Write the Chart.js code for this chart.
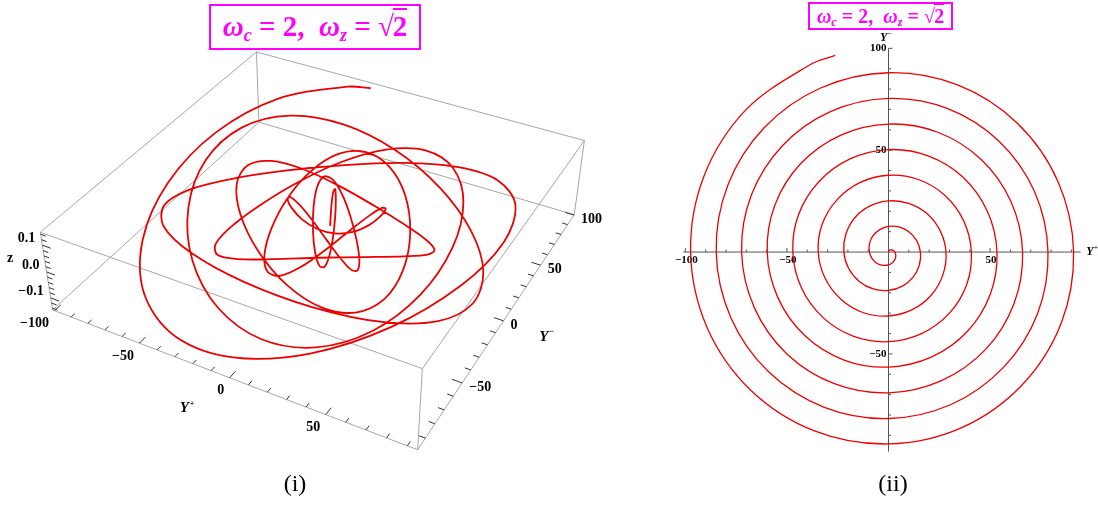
<!DOCTYPE html>
<html><head><meta charset="utf-8">
<script src="https://cdn.jsdelivr.net/npm/chart.js@4.4.1/dist/chart.umd.min.js"></script>
<style>
html,body{margin:0;padding:0;background:#fff;}
#wrap{position:relative;width:1098px;height:506px;overflow:hidden;background:#fff;}
canvas{position:absolute;top:0;}
.title{position:absolute;border:2px solid #ff00ff;color:#ff00ff;font-family:"Liberation Serif","Times New Roman",serif;font-weight:bold;white-space:nowrap;box-sizing:border-box;text-align:center;}
.title sub{font-size:0.62em;vertical-align:-0.28em;line-height:0;}
.ov{border-top:0.08em solid #ff00ff;padding-top:0;margin-left:-0.04em;}
.cap{position:absolute;font-family:"Liberation Serif","Times New Roman",serif;font-size:24px;text-align:center;width:80px;}
</style></head>
<body><div id="wrap">
<canvas id="c1" width="640" height="506" style="left:0"></canvas>
<canvas id="c2" width="458" height="506" style="left:640px"></canvas>
<div class="title" style="left:209px;top:4px;width:212px;height:46px;font-size:29px;line-height:40px;"><i>ω</i><sub><i>c</i></sub> = 2,&nbsp; <i>ω</i><sub><i>z</i></sub> = √<span class="ov">2</span></div>
<div class="title" style="left:808px;top:2px;width:145px;height:28px;font-size:20px;line-height:24px;"><i>ω</i><sub><i>c</i></sub> = 2,&nbsp; <i>ω</i><sub><i>z</i></sub> = √<span class="ov">2</span></div>
<div class="cap" style="left:255px;top:470px;">(i)</div>
<div class="cap" style="left:853px;top:470px;">(ii)</div>
</div>
<script>
// ================= DATA =================
// trajectory samples (same trajectory in both panels): Y+, Y-, z
const yPlus=[0,0.3,1.1,2.2,3.1,3.6,3.3,2.1,0,-2.7,-5.6,-8.0,-9.4,-9.4,-7.8,-4.5,
0,5.1,10.0,13.8,15.7,15.2,12.2,6.9,0,-7.5,-14.4,-19.6,-22.0,-21.0,-16.7,-9.3,
0,9.9,18.9,25.4,28.3,26.8,21.1,11.7,0,-12.3,-23.3,-31.2,-34.6,-32.7,-25.5,-14.1,
0,14.7,27.8,37.0,40.8,38.5,30.0,16.5,0,-17.1,-32.2,-42.8,-47.1,-44.3,-34.4,-18.9,
0,19.5,36.7,48.6,53.4,50.1,38.9,21.3,0,-21.9,-41.1,-54.4,-59.7,-55.9,-43.3,-23.7,
0,24.3,45.5,60.2,66.0,61.7,47.8,26.1,0,-26.7,-50.0,-66.0,-72.3,-67.5,-52.2,-28.6,
0,29.2,54.4,71.8,78.5,73.3,56.6,31.0,0,-31.6,-58.9,-77.6,-84.8,-79.1,-61.1,-33.4,
0,34.0,63.3,83.4,91.1,84.9,65.5,35.8,0,-36.4,-67.8,-89.3,-97.4,-90.7,-70.0,-38.2,-26.2];
const yMinus=[0,0.7,1.1,0.9,0,-1.5,-3.3,-5.1,-6.3,-6.5,-5.6,-3.3,0,3.9,7.8,10.9,
12.6,12.3,10.0,5.7,0,-6.3,-12.2,-16.7,-18.8,-18.1,-14.4,-8.1,0,8.7,16.7,22.5,
25.1,23.9,18.9,10.5,0,-11.1,-21.1,-28.3,-31.4,-29.8,-23.3,-12.9,0,13.5,25.5,34.1,
37.7,35.6,27.8,15.3,0,-15.9,-30.0,-39.9,-44.0,-41.4,-32.2,-17.7,0,18.3,34.4,45.7,
50.3,47.2,36.7,20.1,0,-20.7,-38.9,-51.5,-56.5,-53.0,-41.1,-22.5,0,23.1,43.3,57.3,
62.8,58.8,45.5,24.9,0,-25.5,-47.8,-63.1,-69.1,-64.6,-50.0,-27.4,0,28.0,52.2,68.9,
75.4,70.4,54.4,29.8,0,-30.4,-56.6,-74.7,-81.7,-76.2,-58.9,-32.2,0,32.8,61.1,80.5,
88.0,82.0,63.3,34.6,0,-35.2,-65.5,-86.3,-94.2,-87.8,-67.8,-37.0,0,37.6,70.0,92.2,96.5];
const zValues=[0,0.075,0.127,0.141,0.112,0.050,-0.027,-0.096,-0.136,-0.136,-0.094,-0.025,0.053,0.114,0.141,0.126,
0.073,-0.002,-0.077,-0.128,-0.140,-0.111,-0.048,0.029,0.098,0.137,0.135,0.092,0.022,-0.055,-0.115,-0.141,
-0.125,-0.071,0.005,0.078,0.129,0.140,0.110,0.046,-0.031,-0.099,-0.137,-0.134,-0.091,-0.020,0.057,0.117,
0.141,0.123,0.069,-0.007,-0.080,-0.130,-0.140,-0.108,-0.044,0.034,0.101,0.138,0.133,0.089,0.018,-0.059,
-0.118,-0.141,-0.122,-0.067,0.009,0.082,0.130,0.140,0.107,0.042,-0.036,-0.102,-0.138,-0.133,-0.087,-0.015,
0.061,0.119,0.141,0.121,0.065,-0.012,-0.084,-0.131,-0.139,-0.105,-0.040,0.038,0.104,0.139,0.132,0.085,
0.013,-0.063,-0.120,-0.141,-0.120,-0.062,0.014,0.086,0.132,0.139,0.104,0.037,-0.040,-0.106,-0.139,-0.131,
-0.083,-0.011,0.065,0.122,0.141,0.119,0.060,-0.016,-0.088,-0.133,-0.138,-0.102,-0.035,0.042,0.107,0.140,0.141];

// tick labels
const yPlusLabels=[-100,-50,0,50];
const yMinusLabels=[-50,0,50,100];
const zLabels=[-0.1,0,0.1];
const zLabelText=['\u22120.1','0.0','0.1'];
const spiralXLabels=[-100,-50,50];
const spiralYLabels=[-50,50,100];
// plot ranges of the 3D box
const boxRange={yp:[-101.2,94.9],ym:[-98.0,100.3],z:[-0.1471,0.1471]};

// ================= VIEW (layout) =================
const view={viewPoint:[1.3,-2.4,2],boxRatios:[1,1,0.24],scale:1326.5,origin:[325.7,222.9]};
const nrm=a=>{const l=Math.hypot(...a);return a.map(x=>x/l);};
const dot=(a,b)=>a[0]*b[0]+a[1]*b[1]+a[2]*b[2];
const VP=view.viewPoint;
const F=nrm(VP.map(x=>-x));
const R=nrm([F[1],-F[0],0]);
const U=[R[1]*F[2]-R[2]*F[1],R[2]*F[0]-R[0]*F[2],R[0]*F[1]-R[1]*F[0]];
function norm(v,r,k){return ((v-(r[0]+r[1])/2)/(r[1]-r[0]))*view.boxRatios[k];}
function project(yp,ym,z){
  const q=[norm(yp,boxRange.yp,0),norm(ym,boxRange.ym,1),norm(z,boxRange.z,2)];
  const d=[q[0]-VP[0],q[1]-VP[1],q[2]-VP[2]];
  const depth=dot(d,F);
  return {x:view.origin[0]+view.scale*dot(d,R)/depth,y:view.origin[1]-view.scale*dot(d,U)/depth};
}
const SERIF='"Liberation Serif","Times New Roman",serif';
const RED='rgb(236,0,0)';

// ================= LEFT: 3D trajectory =================
const [p0,p1]=boxRange.yp,[m0,m1]=boxRange.ym,[z0,z1]=boxRange.z;
const edges3=[
 [[p0,m0,z0],[p1,m0,z0]],[[p1,m0,z0],[p1,m1,z0]],[[p1,m1,z0],[p0,m1,z0]],[[p0,m1,z0],[p0,m0,z0]],
 [[p0,m0,z1],[p1,m0,z1]],[[p1,m0,z1],[p1,m1,z1]],[[p1,m1,z1],[p0,m1,z1]],[[p0,m1,z1],[p0,m0,z1]],
 [[p0,m0,z0],[p0,m0,z1]],[[p1,m0,z0],[p1,m0,z1]],[[p1,m1,z0],[p1,m1,z1]],[[p0,m1,z0],[p0,m1,z1]]
];
const datasetsL=[{
  data:yPlus.map((v,i)=>project(v,yMinus[i],zValues[i])),
  showLine:true,borderColor:RED,borderWidth:1.8,pointRadius:0,tension:0.34,fill:false
}];
edges3.forEach(e=>datasetsL.push({data:e.map(p=>project(...p)),showLine:true,borderColor:'#a6a6a6',borderWidth:1,pointRadius:0,tension:0}));

function px(chart,p){return [chart.scales.x.getPixelForValue(p.x),chart.scales.y.getPixelForValue(p.y)];}
function seg(ctx,a,b){ctx.beginPath();ctx.moveTo(a[0],a[1]);ctx.lineTo(b[0],b[1]);ctx.stroke();}
function fmt(v){return (v<0?'\u2212':'')+Math.abs(v);}
function drawYlabel(ctx,x,y,sign,size){
  ctx.save();ctx.font='italic bold '+size+'px '+SERIF;ctx.textBaseline='middle';ctx.textAlign='left';
  const w=ctx.measureText('Y').width;ctx.fillText('Y',x-w/2-size*0.15,y);
  ctx.font='bold '+Math.round(size*0.62)+'px '+SERIF;ctx.fillText(sign,x+w/2-size*0.12,y-size*0.32);ctx.restore();
}
const left3D={id:'left3D',afterDatasetsDraw(chart){
  const ctx=chart.ctx;ctx.save();ctx.strokeStyle='#333';ctx.lineWidth=1;ctx.fillStyle='#000';
  for(let v=-100;v<=90;v+=10){const L=(v%50===0)?5:3;seg(ctx,px(chart,project(v,m0,z0)),px(chart,project(v,m0+L,z0)));}
  for(let v=-90;v<=100;v+=10){const L=(v%50===0)?5:3;seg(ctx,px(chart,project(p1,v,z0)),px(chart,project(p1-L,v,z0)));}
  for(let k=-7;k<=7;k++){const z=k*0.02;const L=(k%5===0)?5:3;seg(ctx,px(chart,project(p0,m0,z)),px(chart,project(p0+L,m0,z)));}
  ctx.font='bold 14px '+SERIF;ctx.textBaseline='middle';
  ctx.textAlign='right';
  yPlusLabels.forEach(v=>{const q=px(chart,project(v,m0,z0));ctx.fillText(fmt(v),q[0]-5.5,q[1]+13);});
  ctx.textAlign='left';
  yMinusLabels.forEach(v=>{const q=px(chart,project(p1,v,z0));ctx.fillText(fmt(v),q[0]+7,q[1]+4.3);});
  ctx.textAlign='right';
  zLabels.forEach((v,i)=>{const q=px(chart,project(p0,m0,v));ctx.fillText(zLabelText[i],q[0]-7,q[1]-7);});
  ctx.textAlign='center';
  const zm=px(chart,project(p0,m0,0));ctx.fillText('z',zm[0]-36.6,zm[1]-14);
  const ypm=px(chart,project(0,m0,z0));drawYlabel(ctx,ypm[0]-43,ypm[1]+30.5,'+',15);
  const ymm=px(chart,project(p1,0,z0));drawYlabel(ctx,ymm[0]+42.5,ymm[1]+16,'\u2212',15);
  ctx.restore();
}};
new Chart(document.getElementById('c1'),{type:'scatter',data:{datasets:datasetsL},
 options:{responsive:false,animation:false,devicePixelRatio:1,layout:{padding:0},
  plugins:{legend:{display:false},tooltip:{enabled:false}},
  scales:{x:{type:'linear',min:0,max:640,display:false},y:{type:'linear',min:0,max:506,reverse:true,display:false}}},
 plugins:[left3D]});

// ================= RIGHT: spiral in the (Y+, Y-) plane =================
const spiralAxes={id:'spiralAxes',beforeDatasetsDraw(chart){
  const ctx=chart.ctx,sx=chart.scales.x,sy=chart.scales.y,a=chart.chartArea;
  const x0=sx.getPixelForValue(0),y0=sy.getPixelForValue(0);
  ctx.save();ctx.strokeStyle='#555';ctx.lineWidth=1;
  seg(ctx,[a.left,y0],[a.right,y0]);seg(ctx,[x0,a.top],[x0,a.bottom]);
  for(let v=-100;v<=90;v+=10){if(v===0)continue;const X=sx.getPixelForValue(v);seg(ctx,[X,y0],[X,y0-((v%50===0)?4:2.5)]);}
  for(let v=-90;v<=100;v+=10){if(v===0)continue;const Y=sy.getPixelForValue(v);seg(ctx,[x0,Y],[x0+((v%50===0)?4:2.5),Y]);}
  ctx.fillStyle='#000';ctx.font='bold 11px '+SERIF;ctx.textBaseline='middle';ctx.textAlign='center';
  spiralXLabels.forEach(v=>ctx.fillText(fmt(v),sx.getPixelForValue(v)+1,y0+8));
  ctx.textAlign='right';
  spiralYLabels.forEach(v=>ctx.fillText(fmt(v),x0-2,sy.getPixelForValue(v)));
  drawYlabel(ctx,a.right+11,y0,'+',12);
  drawYlabel(ctx,x0-3,a.top-10,'\u2212',12);
  ctx.restore();
}};
new Chart(document.getElementById('c2'),{type:'scatter',
 data:{datasets:[{data:yPlus.map((v,i)=>({x:v,y:yMinus[i]})),showLine:true,borderColor:RED,borderWidth:1.3,pointRadius:0,tension:0.34,fill:false}]},
 options:{responsive:false,animation:false,devicePixelRatio:1,layout:{padding:{left:43.3,right:17.3,top:48.3,bottom:54.3}},
  plugins:{legend:{display:false},tooltip:{enabled:false}},
  scales:{x:{type:'linear',min:-101,max:94.6,display:false},y:{type:'linear',min:-98,max:100,display:false}}},
 plugins:[spiralAxes]});
</script>
</body></html>
